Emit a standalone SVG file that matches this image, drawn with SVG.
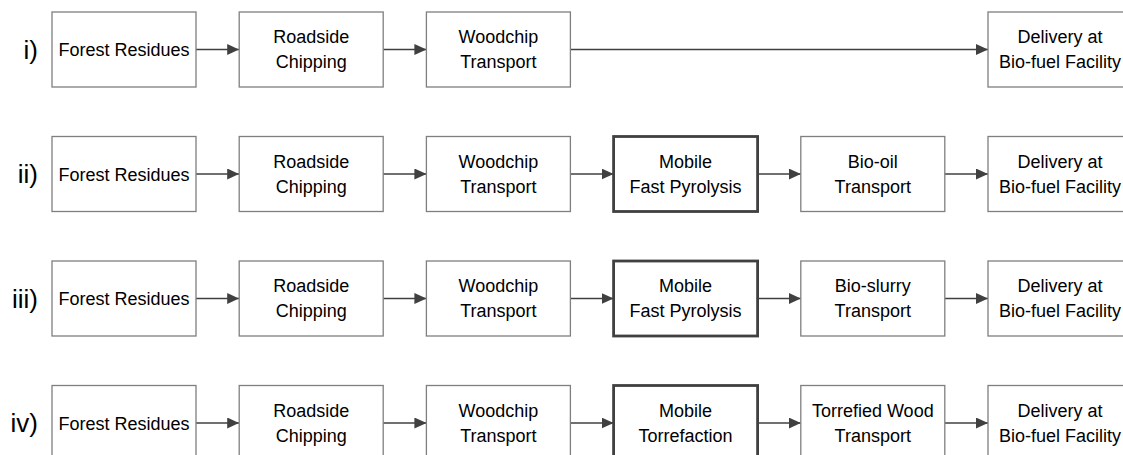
<svg xmlns="http://www.w3.org/2000/svg" width="1123" height="455" viewBox="0 0 1123 455">
<style>
.bg{fill:#fff}
.box{fill:#fff;stroke:#7f7f7f;stroke-width:1.3}
.bold{fill:#fff;stroke:#404040;stroke-width:2.8}
.t{font-family:"Liberation Sans",Arial,sans-serif;font-size:18px;fill:#000;text-anchor:middle}
.num{font-family:"Liberation Sans",Arial,sans-serif;font-size:26px;fill:#000;text-anchor:end}
.c{fill:none;stroke:#404040;stroke-width:1.6;marker-end:url(#ah)}
</style>
<defs>
<marker id="ah" markerUnits="userSpaceOnUse" markerWidth="12" markerHeight="11" refX="12" refY="5.5" orient="auto">
<path d="M0,0 L12,5.5 L0,11 Z" fill="#404040"/>
</marker>
</defs>
<rect class="bg" width="1123" height="455"/>
<g id="labels">
<text class="num" x="38" y="58.5">i)</text>
<text class="num" x="38" y="183">ii)</text>
<text class="num" x="38" y="307.5">iii)</text>
<text class="num" x="38" y="432">iv)</text>
</g>
<g id="connectors">
<line class="c" x1="196" y1="49.5" x2="239.2" y2="49.5"/>
<line class="c" x1="383.2" y1="49.5" x2="426.4" y2="49.5"/>
<line class="c" x1="570.4" y1="49.5" x2="988" y2="49.5"/>
<line class="c" x1="196" y1="174" x2="239.2" y2="174"/>
<line class="c" x1="383.2" y1="174" x2="426.4" y2="174"/>
<line class="c" x1="570.4" y1="174" x2="613.6" y2="174"/>
<line class="c" x1="757.6" y1="174" x2="800.8" y2="174"/>
<line class="c" x1="944.8" y1="174" x2="988" y2="174"/>
<line class="c" x1="196" y1="298.5" x2="239.2" y2="298.5"/>
<line class="c" x1="383.2" y1="298.5" x2="426.4" y2="298.5"/>
<line class="c" x1="570.4" y1="298.5" x2="613.6" y2="298.5"/>
<line class="c" x1="757.6" y1="298.5" x2="800.8" y2="298.5"/>
<line class="c" x1="944.8" y1="298.5" x2="988" y2="298.5"/>
<line class="c" x1="196" y1="423" x2="239.2" y2="423"/>
<line class="c" x1="383.2" y1="423" x2="426.4" y2="423"/>
<line class="c" x1="570.4" y1="423" x2="613.6" y2="423"/>
<line class="c" x1="757.6" y1="423" x2="800.8" y2="423"/>
<line class="c" x1="944.8" y1="423" x2="988" y2="423"/>
</g>
<!-- Row i -->
<g id="r1-forest"><rect class="box" x="52" y="12" width="144" height="75"/><text class="t" x="124" y="56">Forest Residues</text></g>
<g id="r1-chipping"><rect class="box" x="239.2" y="12" width="144" height="75"/><text class="t" x="311.2" y="43.3">Roadside</text><text class="t" x="311.2" y="68.3">Chipping</text></g>
<g id="r1-woodchip"><rect class="box" x="426.4" y="12" width="144" height="75"/><text class="t" x="498.4" y="43.3">Woodchip</text><text class="t" x="498.4" y="68.3">Transport</text></g>
<g id="r1-delivery"><rect class="box" x="988" y="12" width="144" height="75"/><text class="t" x="1060" y="43.3">Delivery at</text><text class="t" x="1060" y="68.3">Bio-fuel Facility</text></g>
<!-- Row ii -->
<g id="r2-forest"><rect class="box" x="52" y="136.5" width="144" height="75"/><text class="t" x="124" y="180.5">Forest Residues</text></g>
<g id="r2-chipping"><rect class="box" x="239.2" y="136.5" width="144" height="75"/><text class="t" x="311.2" y="167.8">Roadside</text><text class="t" x="311.2" y="192.8">Chipping</text></g>
<g id="r2-woodchip"><rect class="box" x="426.4" y="136.5" width="144" height="75"/><text class="t" x="498.4" y="167.8">Woodchip</text><text class="t" x="498.4" y="192.8">Transport</text></g>
<g id="r2-pyrolysis"><rect class="bold" x="613.6" y="136.5" width="144" height="75"/><text class="t" x="685.6" y="167.8">Mobile</text><text class="t" x="685.6" y="192.8">Fast Pyrolysis</text></g>
<g id="r2-biooil"><rect class="box" x="800.8" y="136.5" width="144" height="75"/><text class="t" x="872.8" y="167.8">Bio-oil</text><text class="t" x="872.8" y="192.8">Transport</text></g>
<g id="r2-delivery"><rect class="box" x="988" y="136.5" width="144" height="75"/><text class="t" x="1060" y="167.8">Delivery at</text><text class="t" x="1060" y="192.8">Bio-fuel Facility</text></g>
<!-- Row iii -->
<g id="r3-forest"><rect class="box" x="52" y="261" width="144" height="75"/><text class="t" x="124" y="305">Forest Residues</text></g>
<g id="r3-chipping"><rect class="box" x="239.2" y="261" width="144" height="75"/><text class="t" x="311.2" y="292.3">Roadside</text><text class="t" x="311.2" y="317.3">Chipping</text></g>
<g id="r3-woodchip"><rect class="box" x="426.4" y="261" width="144" height="75"/><text class="t" x="498.4" y="292.3">Woodchip</text><text class="t" x="498.4" y="317.3">Transport</text></g>
<g id="r3-pyrolysis"><rect class="bold" x="613.6" y="261" width="144" height="75"/><text class="t" x="685.6" y="292.3">Mobile</text><text class="t" x="685.6" y="317.3">Fast Pyrolysis</text></g>
<g id="r3-bioslurry"><rect class="box" x="800.8" y="261" width="144" height="75"/><text class="t" x="872.8" y="292.3">Bio-slurry</text><text class="t" x="872.8" y="317.3">Transport</text></g>
<g id="r3-delivery"><rect class="box" x="988" y="261" width="144" height="75"/><text class="t" x="1060" y="292.3">Delivery at</text><text class="t" x="1060" y="317.3">Bio-fuel Facility</text></g>
<!-- Row iv -->
<g id="r4-forest"><rect class="box" x="52" y="385.5" width="144" height="75"/><text class="t" x="124" y="429.5">Forest Residues</text></g>
<g id="r4-chipping"><rect class="box" x="239.2" y="385.5" width="144" height="75"/><text class="t" x="311.2" y="416.8">Roadside</text><text class="t" x="311.2" y="441.8">Chipping</text></g>
<g id="r4-woodchip"><rect class="box" x="426.4" y="385.5" width="144" height="75"/><text class="t" x="498.4" y="416.8">Woodchip</text><text class="t" x="498.4" y="441.8">Transport</text></g>
<g id="r4-torrefaction"><rect class="bold" x="613.6" y="385.5" width="144" height="75"/><text class="t" x="685.6" y="416.8">Mobile</text><text class="t" x="685.6" y="441.8">Torrefaction</text></g>
<g id="r4-torrefied"><rect class="box" x="800.8" y="385.5" width="144" height="75"/><text class="t" x="872.8" y="416.8">Torrefied Wood</text><text class="t" x="872.8" y="441.8">Transport</text></g>
<g id="r4-delivery"><rect class="box" x="988" y="385.5" width="144" height="75"/><text class="t" x="1060" y="416.8">Delivery at</text><text class="t" x="1060" y="441.8">Bio-fuel Facility</text></g>
</svg>
